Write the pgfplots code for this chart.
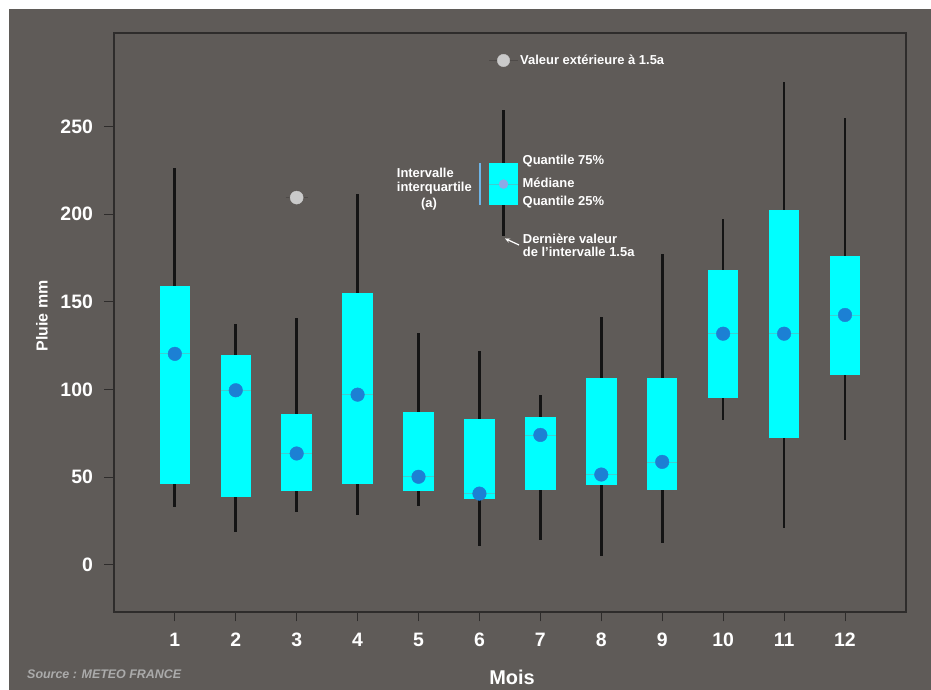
\documentclass[border=0pt]{standalone}
\usepackage{fontspec}
\setmainfont{Liberation Sans}
\usepackage{pgfplots}
\pgfplotsset{compat=1.18}
\usepgfplotslibrary{statistics}
\usetikzlibrary{arrows.meta}

\definecolor{bg}{HTML}{5F5B58}
\definecolor{frame}{HTML}{2E2C2B}
\definecolor{boxcyan}{HTML}{00FFFF}
\definecolor{medline}{HTML}{3CCFD2}
\definecolor{medblue}{HTML}{1C80D4}
\definecolor{legmed}{HTML}{8EA9E6}
\definecolor{iqline}{HTML}{6DB6E8}
\definecolor{outl}{HTML}{CACACA}
\definecolor{outline}{HTML}{4E4A48}
\definecolor{srcgray}{HTML}{ABABAB}

% one box per month: position, lower whisker, Q1, median, Q3, upper whisker
\newcommand{\monthbox}[6]{%
  \addplot[boxplot prepared={draw position=#1, lower whisker=#2,
    lower quartile=#3, median=#4, upper quartile=#5, upper whisker=#6,
    box extend=0.5, whisker extend=0}] coordinates {};}

\begin{document}
\begin{tikzpicture}
  % page background
  \begin{scope}[x=1bp,y=1bp]
    \fill[white] (0,0) rectangle (931,690);
    \fill[bg] (9,0) rectangle (931,681);
  \end{scope}

  \begin{axis}[
    at={(113.9bp,78bp)}, anchor=south west,
    scale only axis, width=792bp, height=579bp,
    xmin=0, xmax=13, ymin=-27.1, ymax=303.5,
    axis line style={draw=frame, line width=1.4bp},
    xtick={1,...,12}, ytick={0,50,...,250},
    xtick pos=bottom, ytick pos=left,
    tick align=outside, major tick length=9.5bp,
    tick style={draw=frame, line width=0.8bp},
    /pgf/number format/assume math mode=true,
    ticklabel style={font=\fontsize{19.5}{19.5}\selectfont\bfseries, text=white},
    yticklabel style={xshift=-8bp},
    xticklabel style={yshift=-8bp},
    clip=false,
    boxplot/draw direction=y,
    boxplot/every box/.style={fill=boxcyan, draw=none},
    boxplot/every whisker/.style={draw=black!92, line width=2.7bp},
    boxplot/every median/.style={draw=medline, line width=0.8bp},
  ]
    % monthly rainfall distributions
    \monthbox{1}{32.9}{46.1}{120.3}{158.9}{226.4}
    \monthbox{2}{18.8}{38.6}{99.5}{119.5}{137.4}
    \monthbox{3}{29.9}{41.8}{63.4}{86.0}{140.8}
    \monthbox{4}{28.0}{46.1}{97.0}{155.1}{211.6}
    \monthbox{5}{33.7}{41.8}{50.1}{87.2}{132.2}
    \monthbox{6}{10.8}{37.5}{40.5}{83.3}{121.8}
    \monthbox{7}{13.9}{42.4}{74.0}{84.1}{97.0}
    \monthbox{8}{5.1}{45.3}{51.4}{106.4}{141.6}
    \monthbox{9}{12.4}{42.8}{58.6}{106.6}{177.5}
    \monthbox{10}{82.4}{95.1}{131.8}{168.4}{197.3}
    \monthbox{11}{20.9}{72.3}{131.8}{202.6}{275.7}
    \monthbox{12}{71.3}{108.4}{142.5}{176.0}{255.0}

    % medians
    \addplot[only marks, mark=*, mark size=6.8bp, color=medblue,
      mark options={draw=medblue, fill=medblue}] coordinates {
      (1,120.3) (2,99.5) (3,63.4) (4,97.0) (5,50.1) (6,40.5)
      (7,74.0) (8,51.4) (9,58.6) (10,131.8) (11,131.8) (12,142.5)};

    % outlier beyond 1.5 IQR
    \addplot[outline, line width=0.7bp] coordinates {(2.82,209.5) (3.18,209.5)};
    \addplot[only marks, mark=*, mark size=6.5bp, color=outl,
      mark options={draw=outl, fill=outl}] coordinates {(3.0,209.5)};

    % key: sample box
    \addplot[boxplot prepared={draw position=6.395, lower whisker=187.4,
      lower quartile=205.5, median=217.2, upper quartile=229.3,
      upper whisker=259.3, box extend=0.466, whisker extend=0},
      boxplot/every whisker/.style={draw=black!92, line width=2.4bp}]
      coordinates {};
    \addplot[only marks, mark=*, mark size=4.5bp, color=legmed,
      mark options={draw=legmed, fill=legmed}] coordinates {(6.395,217.2)};
    \addplot[iqline, line width=2bp] coordinates {(6.005,205.5) (6.005,229.3)};
    % key: outlier sample
    \addplot[outline, line width=0.7bp] coordinates {(6.16,287.8) (6.63,287.8)};
    \addplot[only marks, mark=*, mark size=6.2bp, color=outl,
      mark options={draw=outl, fill=outl}] coordinates {(6.395,287.8)};
  \end{axis}

  \begin{scope}[x=1bp,y=1bp]
    % key texts
    \begin{scope}[every node/.style={text=white, inner sep=0pt,
        font=\fontsize{13}{13}\selectfont\bfseries}]
      \node[anchor=west] at (520,630) {Valeur extérieure à 1.5a};
      \node[anchor=west] at (522.5,528.5) {Quantile 75\%};
      \node[anchor=west] at (522.5,506.7) {Médiane};
      \node[anchor=west] at (522.5,487.7) {Quantile 25\%};
      \node[anchor=west] at (396.7,516.7) {Intervalle};
      \node[anchor=west] at (396.7,502.3) {interquartile};
      \node at (429,485.7) {(a)};
      \node[anchor=west] at (522.7,451) {Dernière valeur};
      \node[anchor=west] at (522.7,437.7) {de l'intervalle 1.5a};
    \end{scope}
    \draw[white, line width=1.2bp, -{Stealth[length=5bp,width=4.5bp]}]
      (519,445) -- (505,451.5);

    % axis titles and source
    \node[text=white, font=\fontsize{16}{16}\selectfont\bfseries, rotate=90]
      at (42,374) {Pluie mm};
    \node[text=white, font=\fontsize{20}{20}\selectfont\bfseries]
      at (512,13) {Mois};
    \node[anchor=west, inner sep=0pt, text=srcgray,
      font=\fontsize{12.5}{12.5}\selectfont\bfseries\itshape]
      at (27,16) {Source : METEO FRANCE};

    \pgfresetboundingbox
    \useasboundingbox (0,0) rectangle (931,690);
  \end{scope}
\end{tikzpicture}
\end{document}
